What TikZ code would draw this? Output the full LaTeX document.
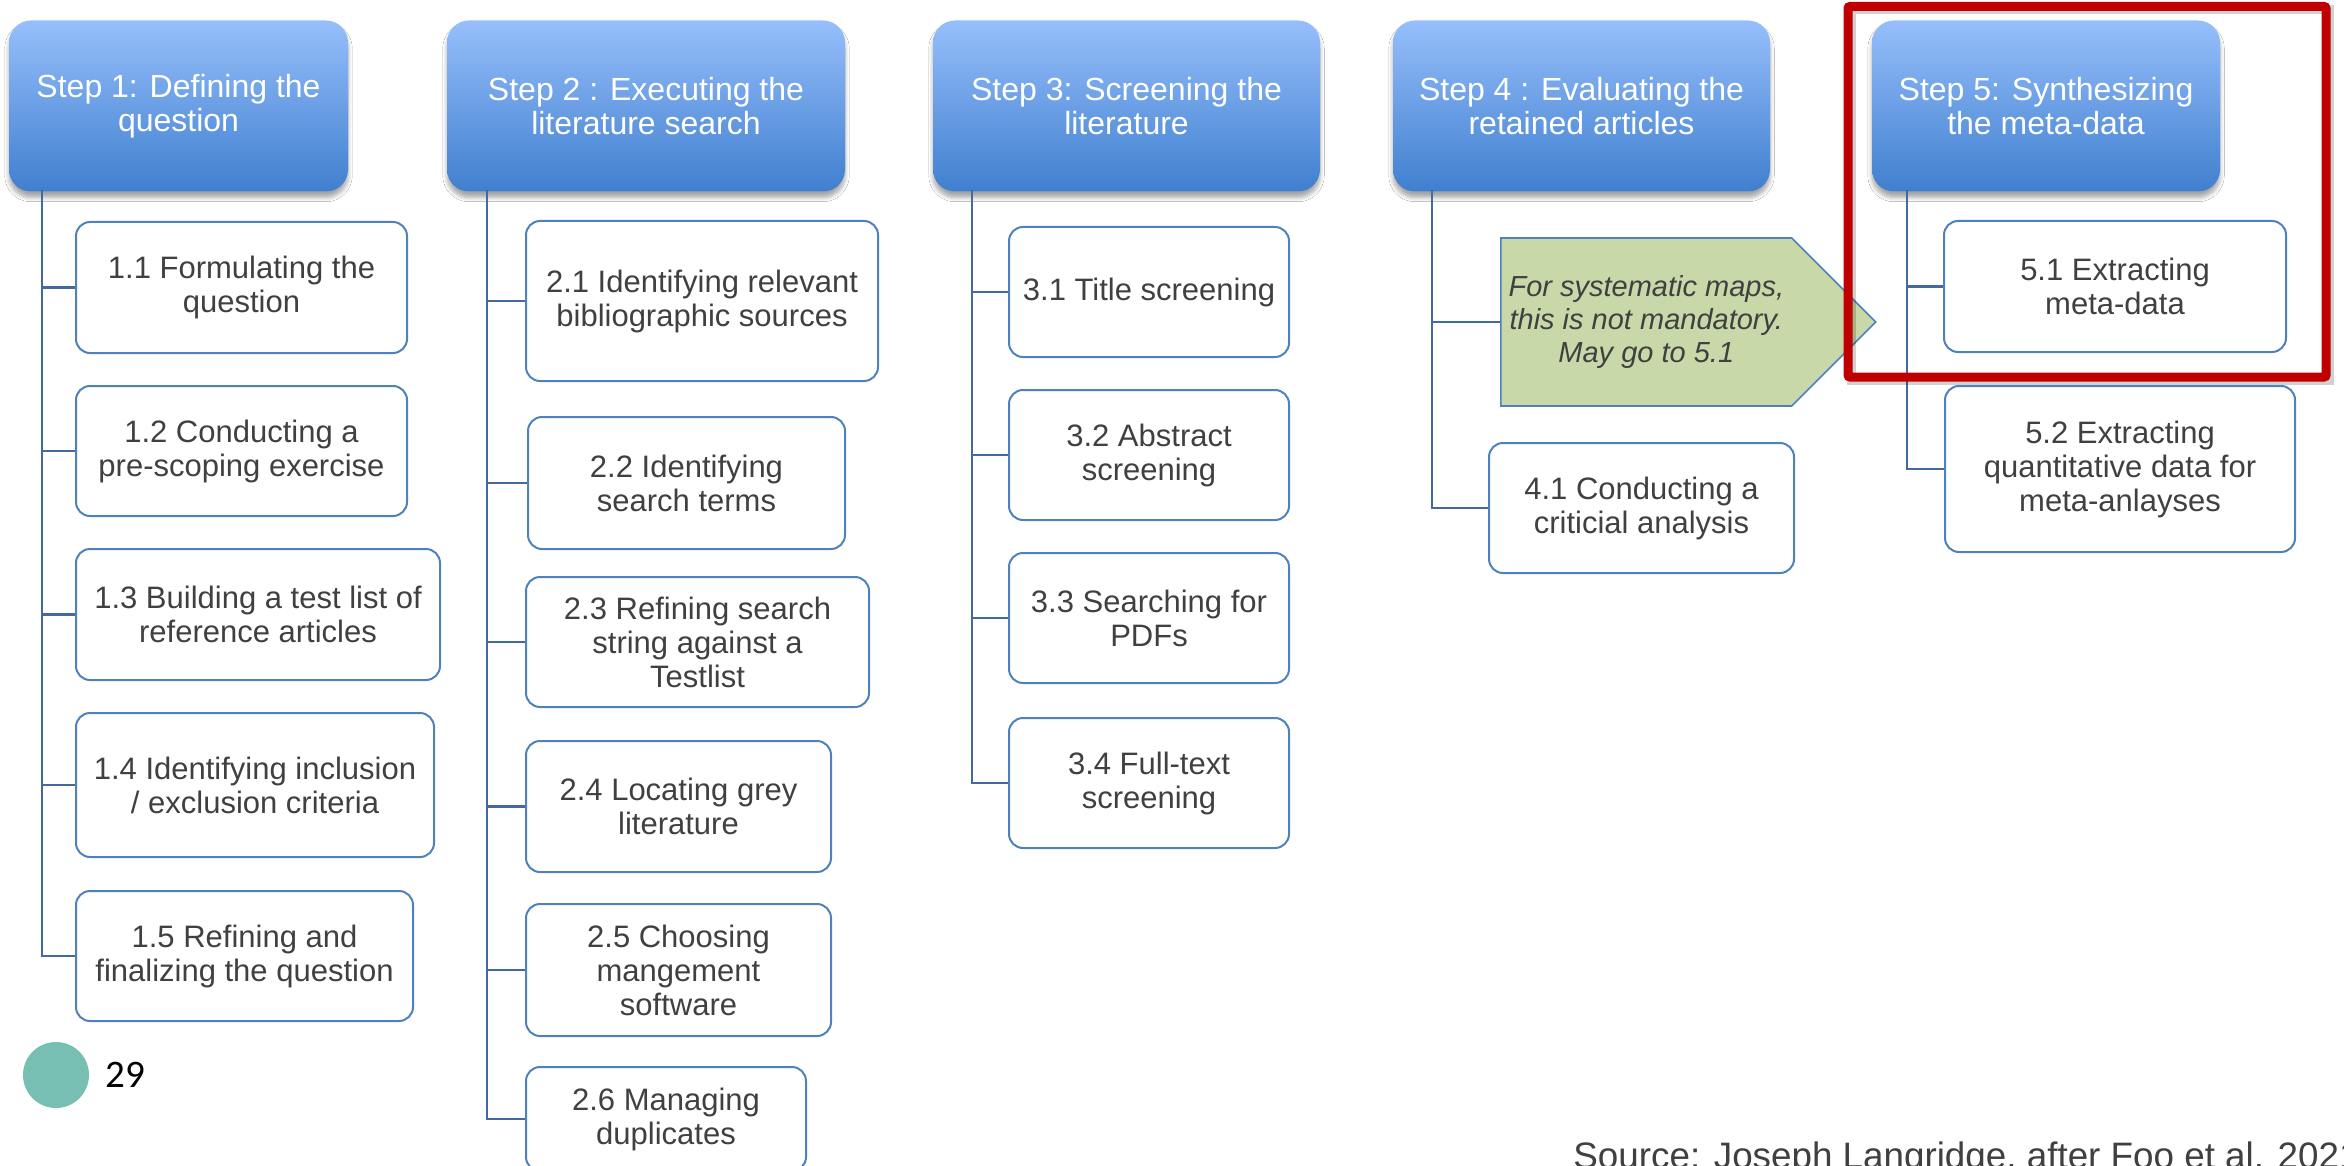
\documentclass[tikz,border=0pt]{standalone}
\usepackage{fontspec}
\setmainfont{Liberation Sans}
\newfontfamily\calibrifont{Carlito}
\usetikzlibrary{shapes,shapes.symbols,positioning,calc,shadows.blur}
\definecolor{head1}{RGB}{150,191,251}
\definecolor{head2}{RGB}{64,127,207}
\definecolor{edge1}{RGB}{79,129,189}
\definecolor{link1}{RGB}{68,104,160}
\definecolor{text1}{RGB}{64,64,64}
\definecolor{note1}{RGB}{200,216,168}
\definecolor{red1}{RGB}{192,0,0}
\definecolor{teal1}{RGB}{118,191,178}

\begin{document}
\begin{tikzpicture}[x=0.5pt, y=-0.5pt,
    bsize/.style 2 args={minimum width=#1*0.5pt, minimum height=#2*0.5pt},
    stephead/.style={rounded corners=11pt, top color=head1, bottom color=head2, text=white, align=center, inner sep=0pt,
        font=\fontsize{16}{17}\selectfont, blur shadow={shadow xshift=0pt, shadow yshift=-3pt, shadow blur steps=6, shadow opacity=35}},
    substep/.style={draw=edge1, line width=1pt, rounded corners=7pt, fill=white, text=text1, align=center, inner sep=0pt,
        font=\fontsize{15.5}{17}\selectfont},
    note/.style={shape=signal, signal to=east, signal pointer angle=90, draw=edge1, line width=0.8pt, fill=note1, text=text1,
        align=center, inner sep=0pt, font=\fontsize{14.5}{16.5}\selectfont\itshape},
    link/.style={draw=link1, line width=1.2pt}]

    \path[fill=white, use as bounding box] (0,0) rectangle (2344,1166);

    % step headers
    \node[stephead, bsize={339}{171}] (h1) at (178.5,106) {Step 1: Defining the\\question};
    \node[stephead, bsize={398}{171}] (h2) at (646,106) {Step 2 : Executing the\\literature search};
    \node[stephead, bsize={387}{171}] (h3) at (1126.5,106) {Step 3: Screening the\\literature};
    \node[stephead, bsize={377}{171}] (h4) at (1581.5,106) {Step 4 : Evaluating the\\retained articles};
    \node[stephead, bsize={348}{171}] (h5) at (2046,106) {Step 5: Synthesizing\\the meta-data};

    % step 1
    \node[substep, bsize={331}{131}] (c11) at (241.5,287.5) {1.1 Formulating the\\question};
    \node[substep, bsize={331}{130}] (c12) at (241.5,451) {1.2 Conducting a\\pre-scoping exercise};
    \node[substep, bsize={364}{131}] (c13) at (258,614.5) {1.3 Building a test list of\\reference articles};
    \node[substep, bsize={358}{144}] (c14) at (255,785) {1.4 Identifying inclusion\\/ exclusion criteria};
    \node[substep, bsize={337}{130}] (c15) at (244.5,956) {1.5 Refining and\\finalizing the question};

    % step 2
    \node[substep, bsize={352}{160}] (c21) at (702,301) {2.1 Identifying relevant\\bibliographic sources};
    \node[substep, bsize={317}{132}] (c22) at (686.5,483) {2.2 Identifying\\search terms};
    \node[substep, bsize={343}{130}] (c23) at (697.5,642) {2.3 Refining search\\string against a\\Testlist};
    \node[substep, bsize={305}{131}] (c24) at (678.5,806.5) {2.4 Locating grey\\literature};
    \node[substep, bsize={305}{132}] (c25) at (678.5,970) {2.5 Choosing\\mangement\\software};
    \node[substep, bsize={280}{104}] (c26) at (666,1119) {2.6 Managing\\duplicates};

    % step 3
    \node[substep, bsize={280}{130}] (c31) at (1149,292) {3.1 Title screening};
    \node[substep, bsize={280}{130}] (c32) at (1149,455) {3.2 Abstract\\screening};
    \node[substep, bsize={280}{130}] (c33) at (1149,618) {3.3 Searching for\\PDFs};
    \node[substep, bsize={280}{130}] (c34) at (1149,783) {3.4 Full-text\\screening};

    % step 4
    \node[note, bsize={375}{168}, anchor=west] (g4) at (1500,322) {For systematic maps,\\this is not mandatory.\\May go to 5.1};
    \node[substep, bsize={305}{130}] (c41) at (1641.5,508) {4.1 Conducting a\\criticial analysis};

    % step 5
    \node[substep, bsize={342}{131}] (c51) at (2115,286.5) {5.1 Extracting\\meta-data};
    \node[substep, bsize={350}{166}] (c52) at (2120,469) {5.2 Extracting\\quantitative data for\\meta-anlayses};

    % trunks and branches
    \coordinate (t1) at (42,190);
    \coordinate (t2) at (487,190);
    \coordinate (t3) at (972,190);
    \coordinate (t4) at (1432,190);
    \coordinate (t5) at (1907,190);
    \draw[link] (t1) |- (c15.west);
    \foreach \c in {c11,c12,c13,c14} \draw[link] (\c.west) -- (\c.west -| t1);
    \draw[link] (t2) |- (c26.west);
    \foreach \c in {c21,c22,c23,c24,c25} \draw[link] (\c.west) -- (\c.west -| t2);
    \draw[link] (t3) |- (c34.west);
    \foreach \c in {c31,c32,c33} \draw[link] (\c.west) -- (\c.west -| t3);
    \draw[link] (t4) |- (c41.west);
    \draw[link] (g4.west) -- (g4.west -| t4);
    \draw[link] (t5) |- (c52.west);
    \draw[link] (c51.west) -- (c51.west -| t5);

    % highlight of step 5
    \draw[black, opacity=0.18, line width=4.5pt] (1851,10) rectangle (2329,380);
    \draw[red1, line width=4.5pt, rounded corners=1pt] (1848,6.5) rectangle (2326,377);

    % page number and source
    \node[circle, fill=teal1, inner sep=0pt, minimum size=33pt] (dot) at (56,1075) {};
    \node[inner sep=0pt, right=8pt of dot, font=\calibrifont\fontsize{19.5}{21}\selectfont] (pnum) {29};
    \node[anchor=base west, inner sep=0pt, text=text1, font=\fontsize{18.4}{20}\selectfont] (src) at (1573,1168)
        {Source: Joseph Langridge, after Foo et al. 2021};
\end{tikzpicture}
\end{document}
